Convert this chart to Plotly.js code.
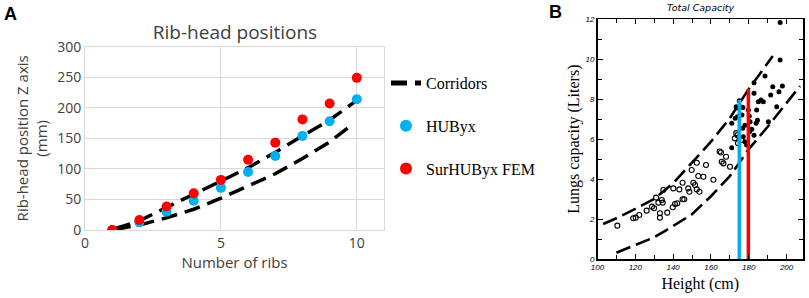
<!DOCTYPE html>
<html>
<head>
<meta charset="utf-8">
<script src="https://cdn.plot.ly/plotly-3.0.1.min.js"></script>
<style>html,body{margin:0;padding:0;background:#fff;}#chart{width:809px;height:298px;}</style>
</head>
<body>
<div id="chart"></div>
<script>
// ---------- Panel A data ----------
const ribNumbers = [1, 2, 3, 4, 5, 6, 7, 8, 9, 10];
const hubyxZ     = [0, 12.5, 30, 48, 69, 95, 121, 154, 178, 214];
const surhubyxZ  = [0, 16.5, 38.5, 60, 82, 115, 143, 181, 207, 249];
const corridorUpperX = [1.1, 2, 3, 4, 5, 6, 7, 8, 9, 9.9];
const corridorUpperY = [2, 15, 37, 58, 80, 102, 127, 154, 180, 209];
const corridorLowerX = [1.1, 2, 3, 4, 5, 6, 7, 8, 9, 9.7];
const corridorLowerY = [1, 8, 20, 34, 52, 72, 92, 117, 144, 168];

// ---------- Panel B data ----------
const openHeight = [110.5,118.9,120.2,122.1,126,128.8,129.9,131,134,132.2,134.5,134.8,133,133,136.9,139.8,141,140.1,142.2,143.3,145,145,145.9,148,148.6,149.8,150.7,151.6,152.5,153.3,156,152.5,153.9,157.4,161.3,164.6,165.3,165.7,166.6,168,170.1,172.6,173.4,174,174.3,176];
const openCapacity = [1.68,2.05,2.08,2.21,2.43,2.63,2.55,3.08,2.96,2.83,2.83,3.46,2.3,2.08,2.33,2.6,2.76,3.54,2.8,3.49,3.82,3.0,3.0,3.54,3.37,4.46,3.82,3.71,4.82,4.16,4.12,3.49,3.37,4.71,3.97,5.38,5.33,4.87,4.79,5.12,4.62,6.04,6.3,6.2,5.8,5.96];
const filledHeight = [171,171,172.8,174,173.3,175,174.5,176,176.9,176.4,176.8,178,177.1,178,178.9,179.8,180.3,180.7,181.6,182.8,182.8,182.8,184.2,184.6,185.1,186.5,187.7,188.6,190.4,191.6,192.7,194.8,196,196.6,196.6,197.8,180.4,183.9];
const filledCapacity = [5.57,6.79,7.04,7.12,7.62,7.92,7.55,7.6,7.58,7.2,6.54,6.7,6.12,5.87,5.71,7.45,7.15,6.87,6.5,6.2,8.29,8.82,7.45,6.95,7.87,7.95,7.87,9.15,6.87,8.2,8.62,7.62,8.37,9.95,11.83,8.65,6.37,6.79];
const bandUpperX = [103, 110, 120, 130, 140, 150, 160, 170, 180, 192.7];
const bandUpperY = [1.76, 2.05, 2.52, 3.02, 3.8, 4.82, 5.87, 7.05, 8.5, 10.15];
const bandLowerX = [110, 120, 130, 140, 150, 160, 170, 180, 190, 207.1];
const bandLowerY = [0.33, 0.7, 1.1, 1.66, 2.25, 3.15, 4.15, 5.5, 6.62, 8.65];
const modelNames   = ['HUByx', 'SurHUByx FEM'];
const modelHeights = [175.0, 179.8];
const modelTops    = [7.95, 8.5];

const blue = '#00b0f0', red = '#ff0000';
const serif = 'Liberation Serif, Times New Roman, serif';
const sans = 'Open Sans, Lato, sans-serif';
const grid = '#d9d9d9';
const dashA = '16px,8px';
const dashB = '15px,6px';

const traces = [
  {x: corridorUpperX, y: corridorUpperY, mode: 'lines', name: 'Corridors', legendgroup: 'c',
   line: {color: '#000', width: 3.5, dash: dashA}, xaxis: 'x', yaxis: 'y'},
  {x: corridorLowerX, y: corridorLowerY, mode: 'lines', name: 'Corridors', legendgroup: 'c', showlegend: false,
   line: {color: '#000', width: 3.5, dash: dashA}, xaxis: 'x', yaxis: 'y'},
  {x: ribNumbers, y: hubyxZ, mode: 'markers', name: 'HUByx', legendgroup: 'h',
   marker: {color: blue, size: 10}, xaxis: 'x', yaxis: 'y'},
  {x: ribNumbers, y: surhubyxZ, mode: 'markers', name: 'SurHUByx FEM', legendgroup: 's',
   marker: {color: red, size: 10}, xaxis: 'x', yaxis: 'y'},

  {x: bandUpperX, y: bandUpperY, mode: 'lines', showlegend: false,
   line: {color: '#000', width: 2.6, dash: dashB}, xaxis: 'x2', yaxis: 'y2'},
  {x: bandLowerX, y: bandLowerY, mode: 'lines', showlegend: false,
   line: {color: '#000', width: 2.6, dash: dashB}, xaxis: 'x2', yaxis: 'y2'},
  {x: openHeight, y: openCapacity, mode: 'markers', showlegend: false,
   marker: {symbol: 'circle-open', color: '#000', size: 5, line: {width: 1.1}}, xaxis: 'x2', yaxis: 'y2'},
  {x: filledHeight, y: filledCapacity, mode: 'markers', showlegend: false,
   marker: {symbol: 'circle', color: '#000', size: 5}, xaxis: 'x2', yaxis: 'y2'},
  {x: [modelHeights[0], modelHeights[0]], y: [0, modelTops[0]], mode: 'lines', name: modelNames[0], showlegend: false,
   line: {color: blue, width: 3.5}, xaxis: 'x2', yaxis: 'y2'},
  {x: [modelHeights[1], modelHeights[1]], y: [0, modelTops[1]], mode: 'lines', name: modelNames[1], showlegend: false,
   line: {color: red, width: 3.5}, xaxis: 'x2', yaxis: 'y2'}
];

const layout = {
  width: 809, height: 298,
  margin: {l: 0, r: 0, t: 0, b: 0},
  paper_bgcolor: '#fff', plot_bgcolor: '#fff',
  showlegend: true,
  title: {text: 'Rib-head positions', x: 235/809, xanchor: 'center', y: 1 - 32/298, yanchor: 'middle',
          font: {family: sans, size: 19, color: '#404040'}},
  xaxis: {domain: [85/809, 384/809], range: [0, 11], dtick: 5, tick0: 0,
          showgrid: true, gridcolor: grid, gridwidth: 1, zeroline: false,
          showline: true, linecolor: grid, mirror: true, ticks: '',
          tickfont: {family: sans, size: 14, color: '#404040'},
          title: {text: 'Number of ribs', standoff: 0, font: {family: sans, size: 15, color: '#404040'}}},
  yaxis: {domain: [(298-230)/298, (298-46.7)/298], range: [0, 300], dtick: 50,
          showgrid: true, gridcolor: grid, gridwidth: 1, zeroline: false,
          showline: true, linecolor: grid, mirror: true, ticks: '',
          tickfont: {family: sans, size: 14, color: '#404040'},
          title: {text: 'Rib-head position Z axis<br>(mm)', standoff: 5, font: {family: sans, size: 15, color: '#404040'}}},
  xaxis2: {domain: [597.5/809, 803/809], range: [100, 208.7], anchor: 'y2',
           tickvals: [100, 120, 140, 160, 180, 200], ticks: 'inside', ticklen: 5, tickwidth: 1, tickcolor: '#000',
           minor: {tickvals: [110, 130, 150, 170, 190], ticks: 'inside', ticklen: 4, tickcolor: '#000'},
           showgrid: false, zeroline: false, showline: true, linecolor: '#000', linewidth: 1.5, mirror: 'ticks',
           tickfont: {family: 'Liberation Sans, Arial, sans-serif', size: 8, color: '#000', style: 'italic'},
           title: {text: 'Height (cm)', standoff: 6, font: {family: serif, size: 16, color: '#000'}}},
  yaxis2: {domain: [(298-259.3)/298, (298-19)/298], range: [0, 12], anchor: 'x2',
           tickvals: [0, 2, 4, 6, 8, 10, 12], ticks: 'inside', ticklen: 5, tickwidth: 1, tickcolor: '#000',
           minor: {tickvals: [1, 3, 5, 7, 9, 11], ticks: 'inside', ticklen: 4, tickcolor: '#000'},
           showgrid: false, zeroline: false, showline: true, linecolor: '#000', linewidth: 1.5, mirror: 'ticks',
           tickfont: {family: 'Liberation Sans, Arial, sans-serif', size: 8, color: '#000', style: 'italic'},
           title: {text: 'Lungs capacity (Liters)', standoff: 2, font: {family: serif, size: 16, color: '#000'}}},
  legend: {x: 386/809, xanchor: 'left', y: 1 - 66/298, yanchor: 'top',
           traceorder: 'grouped', tracegroupgap: 19, itemsizing: 'constant',
           bgcolor: 'rgba(0,0,0,0)', borderwidth: 0,
           font: {family: serif, size: 16, color: '#000'}},
  annotations: [
    {text: '<b>A</b>', xref: 'paper', yref: 'paper', x: 2/809, y: 1 - 14/298, xanchor: 'left', yanchor: 'middle',
     showarrow: false, font: {family: 'Liberation Sans, Arial, sans-serif', size: 18, color: '#000'}},
    {text: '<b>B</b>', xref: 'paper', yref: 'paper', x: 547/809, y: 1 - 12/298, xanchor: 'left', yanchor: 'middle',
     showarrow: false, font: {family: 'Liberation Sans, Arial, sans-serif', size: 18, color: '#000'}},
    {text: '<i>Total Capacity</i>', xref: 'paper', yref: 'paper', x: 701/809, y: 1 - 7/298, xanchor: 'center', yanchor: 'middle',
     showarrow: false, font: {family: 'DejaVu Sans, sans-serif', size: 9.5, color: '#000'}}
  ]
};

Plotly.newPlot('chart', traces, layout, {displayModeBar: false, staticPlot: true});
</script>
</body>
</html>
